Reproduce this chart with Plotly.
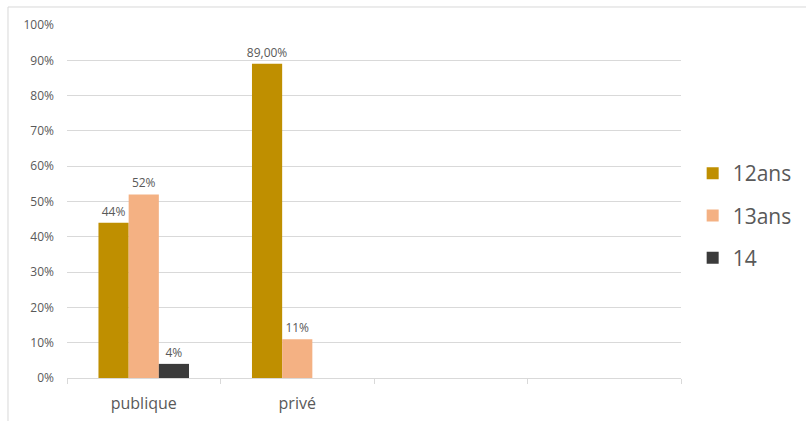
import plotly.graph_objects as go

categories = ["publique", "privé", " ", "  "]
series_names = ["12ans", "13ans", "14"]
values_12 = [0.44, 0.89, None, None]
values_13 = [0.52, 0.11, None, None]
values_14 = [0.04, None, None, None]
labels_12 = ["44%", "89,00%", "", ""]
labels_13 = ["52%", "11%", "", ""]
labels_14 = ["4%", "", "", ""]
colors = ["#BF8F00", "#F4B183", "#3B3B3B"]
y_ticks = [i / 10 for i in range(11)]
y_tick_labels = [f"{i*10}%" for i in range(11)]

fig = go.Figure()
for name, vals, labs, col in zip(series_names, [values_12, values_13, values_14],
                                 [labels_12, labels_13, labels_14], colors):
    fig.add_trace(go.Bar(
        x=categories, y=vals, name=name, text=labs, textposition="outside",
        textfont=dict(color="#595959", size=12), cliponaxis=False,
        constraintext="none",
        marker=dict(color=col, line=dict(width=0)), legendgroup=name,
    ))

fig.update_layout(
    width=806, height=421,
    margin=dict(l=67, r=125, t=25, b=43, autoexpand=False),
    paper_bgcolor="white", plot_bgcolor="white",
    font=dict(family="Open Sans, Calibri, sans-serif", color="#595959"),
    barmode="group", bargap=0.41, bargroupgap=0,
    showlegend=True,
    legend=dict(x=1.019, y=0.46, xanchor="left", yanchor="middle",
                font=dict(size=21, color="#595959"), tracegroupgap=12,
                itemwidth=30),
    xaxis=dict(type="category", tickson="boundaries", ticks="outside",
               ticklen=5, tickcolor="#d9d9d9", showline=True,
               linecolor="#d9d9d9", linewidth=1, showgrid=False,
               ticklabelstandoff=11,
               tickfont=dict(size=16, color="#595959")),
    yaxis=dict(range=[0, 1], tickvals=y_ticks, ticktext=y_tick_labels,
               showgrid=True, gridcolor="#d9d9d9", gridwidth=1,
               zeroline=False, showline=False, ticks="",
               ticklabelstandoff=12,
               tickfont=dict(size=12, color="#595959")),
    shapes=[
        dict(type="line", xref="paper", yref="paper", x0=-0.0961, x1=-0.0961,
             y0=1.051, y1=-0.2, line=dict(color="#d9d9d9", width=1)),
        dict(type="line", xref="paper", yref="paper", x0=-0.0961, x1=1.3,
             y0=1.051, y1=1.051, line=dict(color="#d9d9d9", width=1)),
    ],
)
fig.write_html("out.html", config={"displayModeBar": False},
               post_script="document.body.style.margin='0';document.body.style.overflow='hidden';")
